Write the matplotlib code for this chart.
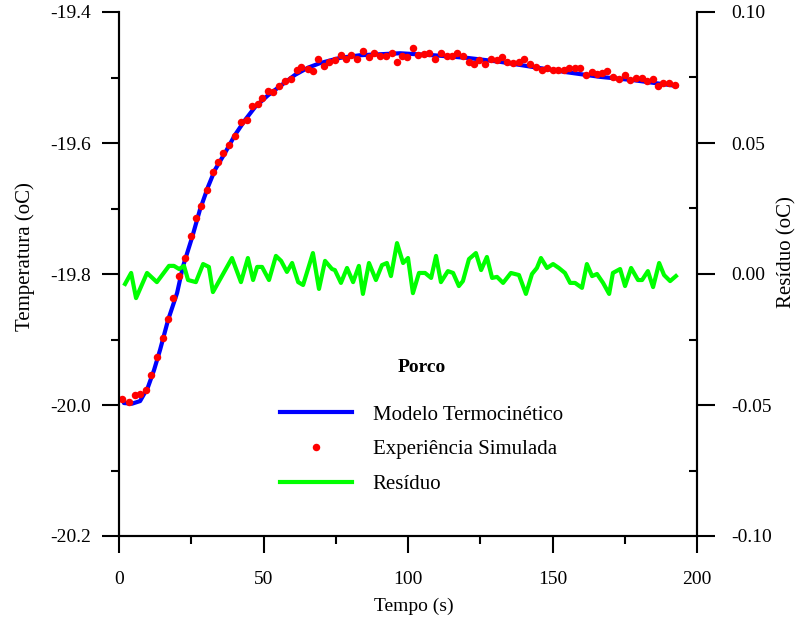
import matplotlib
matplotlib.use("Agg")
import matplotlib.pyplot as plt
from matplotlib.ticker import MultipleLocator, FixedLocator, FormatStrFormatter
from matplotlib.lines import Line2D

plt.rcParams['font.family'] = ['Liberation Serif', 'DejaVu Serif']
plt.rcParams['axes.unicode_minus'] = False

# ---- data ----
model_t = [1.7, 4.5, 7.3, 10.0, 12.1, 14.2, 17.0, 20.1, 22.1, 25.3, 28.0, 30.8, 33.2,
           36.7, 40.1, 43.6, 47.1, 51.6, 56.4, 60.9, 65.4, 69.6, 76.5, 83.4, 97.2,
           108.7, 120.4, 131.8, 143.3, 155.0, 166.4, 177.9, 193.1]
model_T = [-19.997, -19.998, -19.994, -19.973, -19.947, -19.916, -19.870, -19.829,
           -19.789, -19.744, -19.702, -19.667, -19.641, -19.615, -19.588, -19.565,
           -19.545, -19.527, -19.511, -19.496, -19.485, -19.478, -19.470, -19.466,
           -19.463, -19.466, -19.470, -19.476, -19.484, -19.492, -19.499, -19.504,
           -19.513]

exp_t = [1.1, 3.5, 5.5, 7.3, 9.3, 11.1, 13.3, 15.3, 16.9, 18.8, 20.9, 22.8, 24.9,
         26.5, 28.4, 30.5, 32.6, 34.4, 36.1, 38.2, 40.1, 42.2, 44.2, 45.9, 48.0,
         49.6, 51.7, 53.4, 55.4, 57.4, 59.5, 61.5, 63.0, 65.3, 67.2, 69.0, 70.9,
         72.8, 74.7, 76.7, 78.5, 80.3, 82.5, 84.5, 86.6, 88.2, 90.3, 92.4, 94.4,
         96.1, 97.8, 99.8, 101.8, 103.6, 105.5, 107.4, 109.3, 111.3, 113.4, 115.3,
         117.1, 119.1, 121.2, 122.8, 124.7, 126.6, 128.7, 130.7, 132.4, 134.4,
         136.4, 138.4, 140.2, 142.2, 144.2, 146.3, 148.2, 150.1, 152.0, 154.0,
         155.8, 157.8, 159.5, 161.5, 163.6, 165.3, 167.2, 168.8, 171.0, 173.1,
         175.1, 176.8, 178.9, 180.9, 182.8, 184.7, 186.4, 188.3, 190.4, 192.4]
exp_T = [-19.991, -19.996, -19.985, -19.983, -19.977, -19.954, -19.927, -19.898,
         -19.869, -19.837, -19.803, -19.776, -19.742, -19.715, -19.696, -19.672,
         -19.644, -19.629, -19.616, -19.603, -19.589, -19.568, -19.565, -19.544,
         -19.540, -19.532, -19.520, -19.522, -19.513, -19.505, -19.503, -19.489,
         -19.484, -19.487, -19.490, -19.472, -19.482, -19.477, -19.473, -19.466,
         -19.471, -19.465, -19.471, -19.459, -19.469, -19.462, -19.467, -19.467,
         -19.462, -19.476, -19.467, -19.469, -19.455, -19.465, -19.464, -19.463,
         -19.472, -19.462, -19.467, -19.467, -19.462, -19.467, -19.476, -19.479,
         -19.473, -19.479, -19.471, -19.473, -19.469, -19.476, -19.478, -19.477,
         -19.471, -19.479, -19.484, -19.489, -19.486, -19.489, -19.489, -19.489,
         -19.486, -19.486, -19.486, -19.496, -19.491, -19.494, -19.493, -19.490,
         -19.499, -19.503, -19.496, -19.504, -19.501, -19.501, -19.506, -19.503,
         -19.513, -19.509, -19.508, -19.511]

res_t = [2.1, 4.2, 5.9, 9.7, 13.1, 17.3, 19.0, 20.8, 22.5, 23.9, 26.6, 29.1, 31.1,
         32.5, 39.1, 42.2, 44.6, 46.4, 47.8, 49.5, 51.9, 54.3, 56.1, 58.1, 59.9,
         62.0, 63.7, 67.1, 69.2, 71.3, 73.7, 74.7, 76.8, 78.9, 81.0, 83.0, 84.4,
         86.5, 88.9, 91.0, 92.7, 94.1, 96.2, 98.3, 100.0, 101.7, 103.8, 105.9,
         108.0, 109.7, 111.4, 113.8, 115.6, 117.6, 119.0, 121.1, 123.5, 125.3,
         127.3, 129.1, 130.8, 132.9, 135.6, 138.4, 140.8, 142.9, 144.6, 146.0,
         148.1, 150.2, 152.2, 154.3, 156.1, 157.8, 160.2, 161.9, 163.7, 165.4,
         167.5, 169.6, 170.9, 173.4, 175.1, 177.2, 179.6, 181.0, 183.0, 184.8,
         186.9, 188.6, 190.7, 192.7]
res_v = [-0.0038, 0.0004, -0.0092, 0.0004, -0.0031, 0.0031, 0.0031, 0.0019, 0.0031,
         -0.0023, -0.0031, 0.0038, 0.0027, -0.0069, 0.0061, -0.0031, 0.0061, -0.0023,
         0.0027, 0.0027, -0.0023, 0.0069, 0.0050, 0.0008, 0.0042, -0.0031, -0.0042,
         0.0080, -0.0057, 0.0050, 0.0019, 0.0015, -0.0034, 0.0023, -0.0031, 0.0031,
         -0.0076, 0.0042, -0.0023, 0.0034, 0.0042, -0.0008, 0.0118, 0.0042, 0.0061,
         -0.0073, 0.0004, 0.0004, -0.0015, 0.0069, -0.0031, 0.0011, 0.0004, -0.0046,
         -0.0027, 0.0057, 0.0080, 0.0015, 0.0065, -0.0015, -0.0011, -0.0034, 0.0004,
         -0.0004, -0.0076, 0.0000, 0.0023, 0.0061, 0.0023, 0.0038, 0.0023, 0.0004,
         -0.0034, -0.0034, -0.0053, 0.0038, -0.0008, 0.0000, -0.0034, -0.0076, 0.0004,
         0.0019, -0.0046, 0.0023, -0.0023, -0.0023, 0.0011, -0.0050, 0.0042, -0.0004,
         -0.0027, -0.0008]

left_ticks = [-19.4, -19.6, -19.8, -20.0, -20.2]
right_ticks = [0.10, 0.05, 0.00, -0.05, -0.10]
x_ticks = [0, 50, 100, 150, 200]

labels = ['Modelo Termocinético', 'Experiência Simulada', 'Resíduo']
legend_title = 'Porco'

# ---- figure ----
fig = plt.figure(figsize=(7.95, 6.19), dpi=100)
ax = fig.add_axes([119/795, 83/619, 578/795, 524/619])
ax2 = ax.twinx()

ax.plot(model_t, model_T, color='#0000FF', lw=3.0, zorder=2, solid_capstyle='round')
ax.plot(exp_t, exp_T, 'o', color='#FF0000', ms=5.4, mew=0, zorder=3)
ax2.plot(res_t, res_v, color='#00FF00', lw=3.0, zorder=2)

ax.set_xlim(0, 200)
ax.set_ylim(-20.2, -19.4)
ax2.set_ylim(-0.10, 0.10)

ax.xaxis.set_major_locator(FixedLocator(x_ticks))
ax.xaxis.set_minor_locator(MultipleLocator(25))
ax.yaxis.set_major_locator(FixedLocator(left_ticks))
ax.yaxis.set_minor_locator(MultipleLocator(0.1))
ax.yaxis.set_major_formatter(FormatStrFormatter('%.1f'))
ax2.yaxis.set_major_locator(FixedLocator(right_ticks))
ax2.yaxis.set_minor_locator(MultipleLocator(0.025))
ax2.yaxis.set_major_formatter(FormatStrFormatter('%.2f'))

for a in (ax, ax2):
    a.spines['top'].set_visible(False)
    for s in a.spines.values():
        s.set_linewidth(1.5)

ax.tick_params(axis='y', which='major', direction='out', length=12, width=1.5,
               pad=8, labelsize=14)
ax.tick_params(axis='y', which='minor', direction='out', length=6, width=1.5)
ax.tick_params(axis='x', which='major', direction='out', length=12, width=1.5,
               pad=13, labelsize=14)
ax.tick_params(axis='x', which='minor', direction='out', length=6, width=1.5)
ax2.tick_params(axis='y', which='major', direction='out', length=13, width=1.5,
                pad=12, labelsize=14)
ax2.tick_params(axis='y', which='minor', direction='in', length=6, width=1.5)

ax.set_xlabel('Tempo (s)', fontsize=14)
ax.set_ylabel('Temperatura (oC)', fontsize=15)
ax2.set_ylabel('Resíduo (oC)', fontsize=15)
ax.xaxis.set_label_coords(0.510, -0.118)
ax.yaxis.set_label_coords(-0.146, 0.534)
ax2.yaxis.set_label_coords(1.138, 0.542)

handles = [Line2D([], [], color='#0000FF', lw=3.0),
           Line2D([], [], ls='none', marker='o', color='#FF0000', ms=5.4, mew=0),
           Line2D([], [], color='#00FF00', lw=3.0)]
leg = ax2.legend(handles, labels, title=legend_title, loc='center',
                 bbox_to_anchor=(0.530, 0.311), bbox_transform=fig.transFigure,
                 frameon=False, fontsize=15, title_fontsize=14, handlelength=3.45,
                 handletextpad=1.0, labelspacing=0.72, numpoints=1)
leg.get_title().set_fontweight('bold')
leg._legend_box.sep = 21

fig.savefig('out.png', dpi=100)
